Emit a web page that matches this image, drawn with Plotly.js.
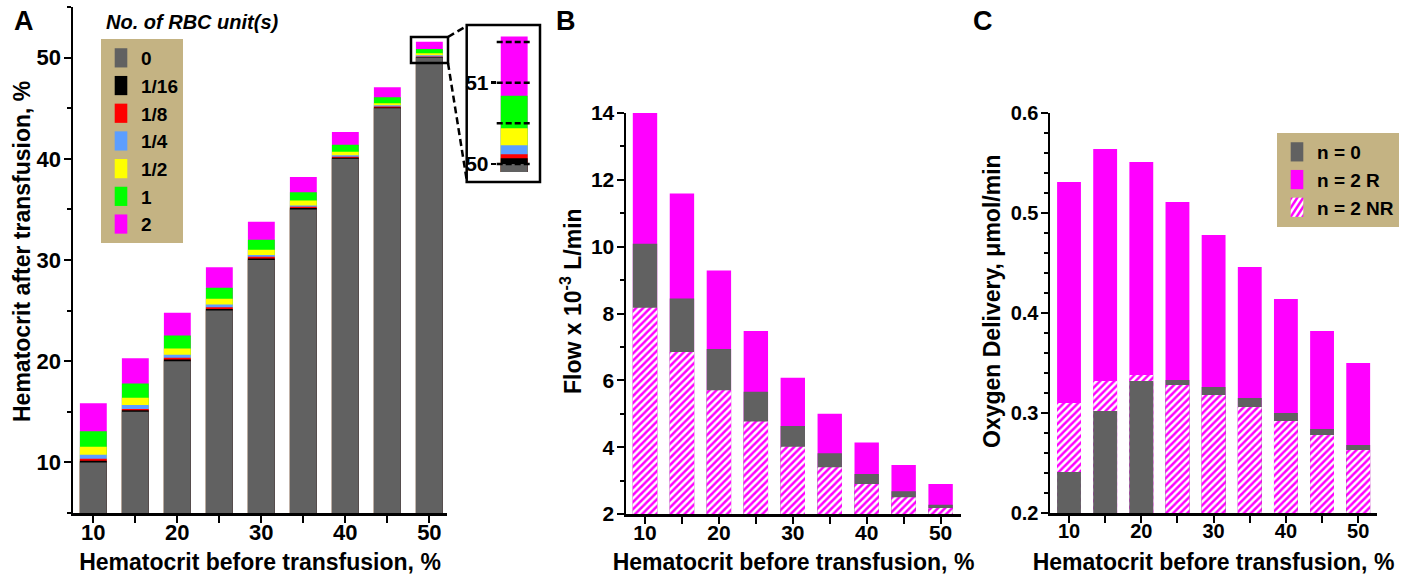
<!DOCTYPE html>
<html><head><meta charset="utf-8">
<script src="https://cdn.plot.ly/plotly-3.0.1.min.js"></script>
<style>html,body{margin:0;padding:0;background:#fff}#chart{width:1401px;height:575px}</style>
</head><body><div id="chart"></div>
<script>
// ---------- data ----------
const hctBefore = [10, 15, 20, 25, 30, 35, 40, 45, 50];
const xTickText = ['10', '', '20', '', '30', '', '40', '', '50'];

// Panel A: hematocrit after transfusion (%) for each number of RBC units
const unitNames = ['0', '1/16', '1/8', '1/4', '1/2', '1', '2'];
const hctUnits0    = [10.00, 15.00, 20.00, 25.00, 30.00, 35.00, 40.00, 45.00, 50.00];
const hctUnits1_16 = [10.17, 15.15, 20.17, 25.16, 30.16, 35.15, 40.10, 45.08, 50.07];
const hctUnits1_8  = [10.36, 15.28, 20.33, 25.33, 30.33, 35.25, 40.20, 45.18, 50.12];
const hctUnits1_4  = [10.76, 15.68, 20.63, 25.60, 30.49, 35.38, 40.36, 45.28, 50.23];
const hctUnits1_2  = [11.55, 16.40, 21.25, 26.16, 31.02, 35.87, 40.69, 45.50, 50.44];
const hctUnits1    = [13.07, 17.79, 22.54, 27.25, 32.00, 36.69, 41.38, 46.07, 50.84];
const hctUnits2    = [15.84, 20.30, 24.79, 29.28, 33.77, 38.20, 42.66, 47.08, 51.57];

// Panel B: flow x 10^-3 L/min
const flowN0   = [10.09, 8.45, 6.94, 5.66, 4.63, 3.82, 3.20, 2.68, 2.28];
const flowN2R  = [14.00, 11.59, 9.29, 7.48, 6.08, 5.00, 4.14, 3.47, 2.90];
const flowN2NR = [8.17, 6.85, 5.70, 4.77, 4.01, 3.40, 2.90, 2.50, 2.18];

// Panel C: oxygen delivery, umol/min
const o2N0   = [0.241, 0.302, 0.332, 0.333, 0.326, 0.315, 0.300, 0.284, 0.268];
const o2N2R  = [0.531, 0.564, 0.551, 0.511, 0.478, 0.446, 0.414, 0.382, 0.350];
const o2N2NR = [0.310, 0.332, 0.338, 0.328, 0.318, 0.306, 0.292, 0.278, 0.263];

// Inset (zoom on the 50 % bar)
const insetGridVals = [50, 50.5, 51, 51.5];
const insetTickVals = [50, 51];

// ---------- styling ----------
const FONT = 'Liberation Sans, Arial, Helvetica, sans-serif';
const W = 1401, H = 575;
const fx = p => p / W;
const fy = p => 1 - p / H;
const GRAY = '#616161', MAGENTA = '#FF00FF';
const unitColors = [GRAY, '#000000', '#FF0000', '#5C9EFF', '#FFFF00', '#00FF00', MAGENTA];
const unitSeries = [hctUnits0, hctUnits1_16, hctUnits1_8, hctUnits1_4, hctUnits1_2, hctUnits1, hctUnits2];

const hatch = {shape: '/', fgcolor: MAGENTA, bgcolor: 'white', fillmode: 'overlay', fgopacity: 1, size: 5, solidity: 0.5};

const traces = [];

// Panel A + inset: overlaid bars, largest drawn first
for (let i = unitSeries.length - 1; i >= 0; i--) {
  traces.push({type: 'bar', x: hctBefore, y: unitSeries[i], name: unitNames[i], width: 3.2,
    marker: {color: unitColors[i], line: {width: 0}}, xaxis: 'x', yaxis: 'y',
    legend: 'legend', legendrank: i + 1, hoverinfo: 'skip'});
}
for (let i = unitSeries.length - 1; i >= 0; i--) {
  traces.push({type: 'bar', x: hctBefore, y: unitSeries[i], name: unitNames[i], width: 3.2,
    marker: {color: unitColors[i], line: {width: 0}}, xaxis: 'x4', yaxis: 'y4',
    showlegend: false, hoverinfo: 'skip'});
}

// Panels B and C: per category the larger of n=0 / n=2 NR is drawn first
function addLayered(xa, ya, vN0, vR, vNR, legendName, showLeg) {
  const grpN0 = 'n0' + xa, grpNR = 'nr' + xa;
  const solid0 = {color: GRAY, line: {width: 0}};
  const hatched = {color: 'white', pattern: hatch, line: {width: 0}};
  const common = {type: 'bar', x: hctBefore, width: 3.3, xaxis: xa, yaxis: ya, legend: legendName, hoverinfo: 'skip'};
  traces.push(Object.assign({}, common, {y: vR, name: 'n = 2 R', marker: {color: MAGENTA, line: {width: 0}},
    showlegend: showLeg, legendrank: 2}));
  // upper layer
  traces.push(Object.assign({}, common, {y: vNR.map((v, k) => v >= vN0[k] ? v : null), name: 'n = 2 NR',
    marker: hatched, legendgroup: grpNR, showlegend: showLeg, legendrank: 3}));
  traces.push(Object.assign({}, common, {y: vN0.map((v, k) => v > vNR[k] ? v : null), name: 'n = 0',
    marker: solid0, legendgroup: grpN0, showlegend: showLeg, legendrank: 1}));
  // lower layer
  traces.push(Object.assign({}, common, {y: vN0.map((v, k) => v <= vNR[k] ? v : null), name: 'n = 0',
    marker: solid0, legendgroup: grpN0, showlegend: false}));
  traces.push(Object.assign({}, common, {y: vNR.map((v, k) => v < vN0[k] ? v : null), name: 'n = 2 NR',
    marker: hatched, legendgroup: grpNR, showlegend: false}));
}
addLayered('x2', 'y2', flowN0, flowN2R, flowN2NR, 'legend2', false);
addLayered('x3', 'y3', o2N0, o2N2R, o2N2NR, 'legend2', true);

// ---------- axes ----------
function xAxis(dom, range, anchor, fs) {
  return {domain: dom, range: range, anchor: anchor, showline: true, linewidth: 2.5, linecolor: 'black',
    ticks: 'outside', ticklen: 7, tickwidth: 2, tickcolor: 'black', tickvals: hctBefore, ticktext: xTickText,
    ticklabelstandoff: -9,
    tickfont: {family: FONT, size: fs, weight: 700, color: 'black'}, showgrid: false, zeroline: false,
    fixedrange: true,
    title: {text: 'Hematocrit before transfusion, %', font: {family: FONT, size: 23, weight: 700, color: 'black'}, standoff: 15}};
}
function yAxis(dom, range, anchor, dtick, minorDtick, fs, fmt) {
  return {domain: dom, range: range, anchor: anchor, showline: true, linewidth: 2.5, linecolor: 'black',
    ticks: 'outside', ticklen: 7, tickwidth: 2, tickcolor: 'black', dtick: dtick, tick0: 0, tickformat: fmt,
    ticklabelstandoff: -2,
    minor: {dtick: minorDtick, tick0: 0, ticks: 'outside', ticklen: 4, tickwidth: 2, tickcolor: 'black'},
    tickfont: {family: FONT, size: fs, weight: 700, color: 'black'}, showgrid: false, zeroline: false,
    fixedrange: true};
}

const insetX0 = 496.7, insetX1 = 531.7;

const layout = {
  width: W, height: H, margin: {l: 0, r: 0, t: 0, b: 0},
  paper_bgcolor: 'white', plot_bgcolor: 'white', barmode: 'overlay',
  font: {family: FONT, color: 'black'},
  xaxis: xAxis([fx(73), fx(447)], [7.58, 52.1], 'y', 22),
  yaxis: Object.assign(yAxis([fy(513), fy(7)], [5, 55], 'x', 10, 5, 22, 'd'), {tick0: 10}),
  xaxis2: xAxis([fx(626), fx(961)], [7.43, 52.76], 'y2', 21),
  yaxis2: yAxis([fy(514), fy(113)], [2, 14], 'x2', 2, 1, 21, 'd'),
  xaxis3: xAxis([fx(1050), fx(1377)], [7.37, 52.6], 'y3', 20),
  yaxis3: yAxis([fy(513), fy(113)], [0.2, 0.6], 'x3', 0.1, 0.02, 20, '.1f'),
  xaxis4: {domain: [fx(insetX0), fx(insetX1)], range: [50 - 17.5 / 8.4, 50 + 17.5 / 8.4], anchor: 'y4',
    visible: false, fixedrange: true},
  yaxis4: {domain: [fy(172), fy(34)], range: [49.9, 51.6], anchor: 'x4', showline: false, showgrid: false,
    zeroline: false, ticks: 'outside', ticklen: 5, tickwidth: 2.5, tickcolor: 'black', tickvals: insetTickVals,
    ticklabelstandoff: -2,
    tickfont: {family: FONT, size: 21, weight: 700, color: 'black'}, fixedrange: true},
  legend: {x: fx(101), y: fy(39), xanchor: 'left', yanchor: 'top', bgcolor: '#C4B383', borderwidth: 0,
    font: {family: FONT, size: 19, weight: 700, color: 'black'}, itemwidth: 30, tracegroupgap: 0},
  legend2: {x: fx(1277), y: fy(133), xanchor: 'left', yanchor: 'top', bgcolor: '#C4B383', borderwidth: 0,
    font: {family: FONT, size: 19, weight: 700, color: 'black'}, itemwidth: 30, tracegroupgap: 0},
  annotations: [
    {text: '<b>A</b>', x: fx(12), y: fy(21), xref: 'paper', yref: 'paper', xanchor: 'left', yanchor: 'middle', showarrow: false, font: {size: 27}},
    {text: '<b>B</b>', x: fx(554), y: fy(21), xref: 'paper', yref: 'paper', xanchor: 'left', yanchor: 'middle', showarrow: false, font: {size: 27}},
    {text: '<b>C</b>', x: fx(971), y: fy(21), xref: 'paper', yref: 'paper', xanchor: 'left', yanchor: 'middle', showarrow: false, font: {size: 27}},
    {text: '<b><i>No. of RBC unit(s)</i></b>', x: fx(104), y: fy(22), xref: 'paper', yref: 'paper', xanchor: 'left', yanchor: 'middle', showarrow: false, font: {size: 20}},
    {text: '<b>Hematocrit after transfusion, %</b>', textangle: -90, x: fx(22), y: fy(252), xref: 'paper', yref: 'paper', xanchor: 'center', yanchor: 'middle', showarrow: false, font: {size: 23}},
    {text: '<b>Flow x 10<sup>-3</sup> L/min</b>', textangle: -90, x: fx(571), y: fy(301), xref: 'paper', yref: 'paper', xanchor: 'center', yanchor: 'middle', showarrow: false, font: {size: 23}},
    {text: '<b>Oxygen Delivery, μmol/min</b>', textangle: -90, x: fx(992), y: fy(301), xref: 'paper', yref: 'paper', xanchor: 'center', yanchor: 'middle', showarrow: false, font: {size: 23}}
  ],
  shapes: [
    {type: 'rect', xref: 'paper', yref: 'paper', x0: fx(466.7), x1: fx(540), y0: fy(25), y1: fy(182), line: {color: 'black', width: 2.5}},
    {type: 'rect', xref: 'paper', yref: 'paper', x0: fx(411), x1: fx(448), y0: fy(37), y1: fy(63), line: {color: 'black', width: 2.5}},
    {type: 'line', xref: 'paper', yref: 'paper', x0: fx(448), y0: fy(37), x1: fx(466.7), y1: fy(26), line: {color: 'black', width: 2.5, dash: '7px,4px'}},
    {type: 'line', xref: 'paper', yref: 'paper', x0: fx(448), y0: fy(63), x1: fx(466.7), y1: fy(180), line: {color: 'black', width: 2.5, dash: '7px,4px'}}
  ].concat(insetGridVals.map(v => ({type: 'line', xref: 'x4 domain', yref: 'y4', x0: 0, x1: 1, y0: v, y1: v,
    line: {color: 'black', width: 2.5, dash: '6px,3px'}})))
};

Plotly.newPlot('chart', traces, layout, {displayModeBar: false, staticPlot: true}).then(gd => {
  // taller legend swatches, as in the reference figure
  gd.querySelectorAll('.legendpoints path').forEach(p => {
    const t = p.getAttribute('transform') || '';
    p.setAttribute('transform', t + ' scale(1.05,1.6)');
  });
});
</script></body></html>
